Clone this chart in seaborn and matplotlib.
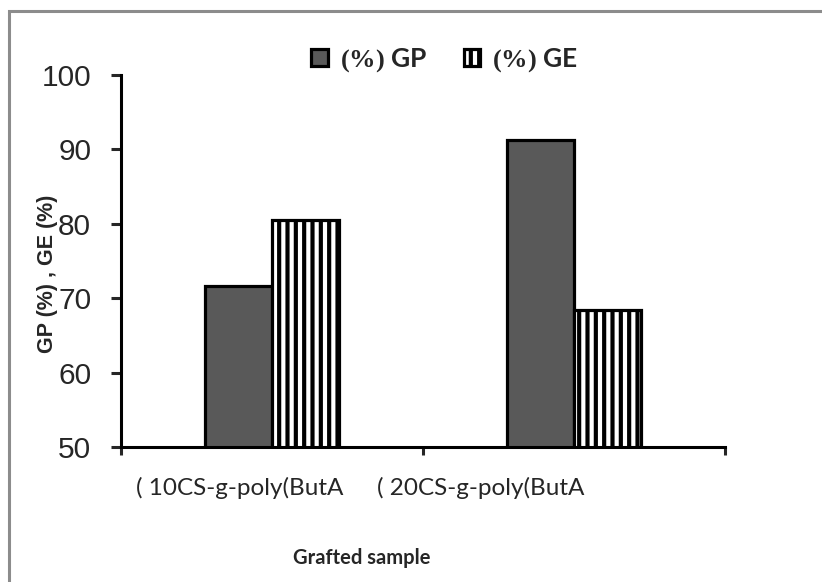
import matplotlib
matplotlib.use("Agg")
import matplotlib.pyplot as plt
import matplotlib.transforms as mtransforms
from matplotlib.patches import Patch, Rectangle
import seaborn as sns
import pandas as pd

categories = ["( 10CS-g-poly(ButA", "( 20CS-g-poly(ButA"]
series_names = ["(%) GP", "(%) GE"]
gp_values = [71.6, 91.2]
ge_values = [80.5, 68.4]
y_ticks = [50, 60, 70, 80, 90, 100]

df = pd.DataFrame({
    "sample": categories * 2,
    "series": [series_names[0]] * 2 + [series_names[1]] * 2,
    "value": gp_values + ge_values,
})

sns.set_style("white")
plt.rcParams["font.family"] = ["Liberation Sans", "DejaVu Sans"]
plt.rcParams["hatch.linewidth"] = 3.0
plt.rcParams["hatch.color"] = "#333333"
plt.rcParams["mathtext.fontset"] = "custom"
plt.rcParams["mathtext.rm"] = "Liberation Serif"
plt.rcParams["mathtext.bf"] = "Liberation Serif:bold"

fig = plt.figure(figsize=(8.22, 5.82), dpi=100)
ax = fig.add_axes([121 / 822, 1 - 447 / 582, 604 / 822, 372 / 582])

sns.barplot(data=df, x="sample", y="value", hue="series", ax=ax,
            width=0.444, palette=["#595959", "#ffffff"], edgecolor="black",
            linewidth=2.3, legend=False, saturation=1)

# hatch for GE bars
for bar in ax.containers[1]:
    bar.set_hatch("||")
    bar.set_facecolor("white")

ax.set_ylim(50, 100)
ax.set_xlim(-0.5, 1.5)
ax.set_yticks(y_ticks)
ax.set_yticklabels([str(t) for t in y_ticks], fontsize=21.5)
ax.tick_params(axis="y", length=7.5, width=2.2, pad=14, direction="out", left=True)

ax.set_xticks([0, 1])
ax.set_xticklabels([])
ax.tick_params(axis="x", which="major", length=0)
ax.set_xticks([-0.5, 0.5, 1.5], minor=True)
ax.tick_params(axis="x", which="minor", length=6, width=2.2, direction="out", bottom=True)

for s in ["top", "right"]:
    ax.spines[s].set_visible(False)
for s in ["left", "bottom"]:
    ax.spines[s].set_linewidth(2.2)
    ax.spines[s].set_color("black")

ax.set_xlabel("")
ax.set_ylabel("")

# category labels (offset as in reference)
label_offsets = [-0.106, -0.308]
for i, (lab, off) in enumerate(zip(categories, label_offsets)):
    ax.text(i + off, -0.110, lab, transform=mtransforms.blended_transform_factory(ax.transData, ax.transAxes),
            ha="center", va="center", fontsize=17.5, family=["Lato", "DejaVu Sans"])

fig.text(362 / 822, 1 - 558 / 582, "Grafted sample", ha="center", va="center",
         fontsize=14.5, fontweight="bold", family=["Lato", "DejaVu Sans"])
fig.text(47 / 822, 1 - 274 / 582, "GP (%) , GE (%)", rotation=90, ha="center", va="center",
         fontsize=15.5, fontweight="bold")

legend_labels = [r"$\mathbf{(\%)}$ " + n.split(") ")[1] for n in series_names]
handles = [Patch(facecolor="#595959", edgecolor="black", linewidth=2.3),
           Patch(facecolor="white", edgecolor="black", linewidth=2.3, hatch="||")]
fig.legend(handles, legend_labels, loc="center", bbox_to_anchor=(444.5 / 822, 1 - 60 / 582),
           ncol=2, frameon=False, prop={"family": ["Lato", "DejaVu Sans"], "weight": "bold", "size": 19},
           handlelength=0.62, handleheight=0.62, handletextpad=0.45, columnspacing=1.4)

# outer frame (gray, left and top visible)
fig.patches.append(Rectangle((9 / 822, -0.1), 1.2, 1 - 11 / 582 + 0.1, transform=fig.transFigure,
                             fill=False, edgecolor="#8c8c8c", linewidth=2.2))

fig.savefig("out.png", dpi=100)
